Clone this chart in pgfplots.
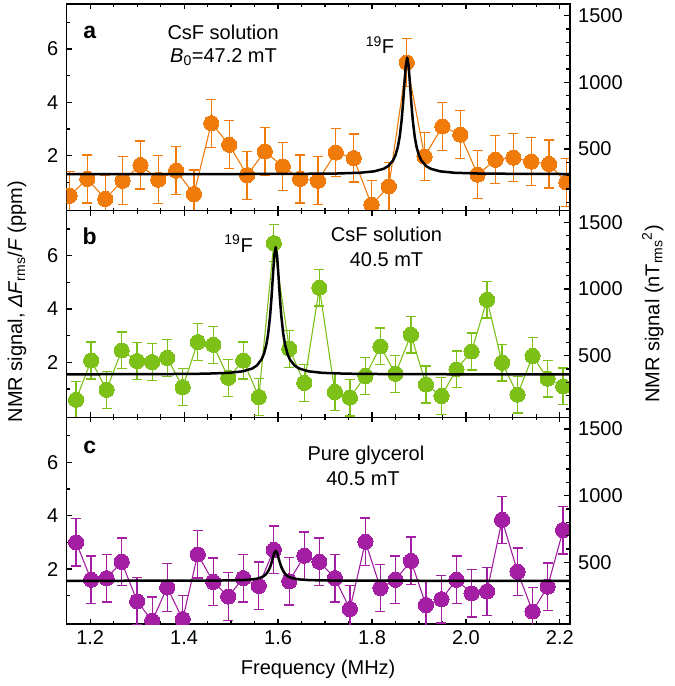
\documentclass[border=0pt]{standalone}
\usepackage{fontspec}
\setmainfont{Liberation Sans}
\usepackage{pgfplots}
\pgfplotsset{compat=1.18}

\definecolor{cor}{RGB}{240,122,10}
\definecolor{cgr}{RGB}{124,192,24}
\definecolor{cpu}{RGB}{164,30,164}

\newcommand{\tf}{\fontsize{20}{24}\selectfont}

\pgfplotsset{
  panel/.style={
    width=503pt, height=206.67pt, scale only axis,
    xmin=1.150, xmax=2.221, ymin=-0.06, ymax=7.689,
    xtick={1.2,1.4,1.6,1.8,2.0,2.2}, minor x tick num=3,
    ytick={2,4,6}, minor ytick={1,3,5,7},
    ytick pos=left, tick align=inside,
    major tick length=5pt, minor tick length=3pt,
    axis line style={line width=1.6pt},
    every tick/.append style={line width=1.2pt, black},
    tick label style={font=\tf},
    /pgf/number format/assume math mode=true,
    xticklabel style={/pgf/number format/.cd, fixed, fixed zerofill, precision=1, /tikz/.cd, yshift=-3pt},
    yticklabel style={xshift=-5pt},
    clip marker paths=true,
    clip mode=individual,
  },
  rpanel/.style={
    width=503pt, height=206.67pt, scale only axis,
    xmin=1.150, xmax=2.221, ymin=38, ymax=1587.8,
    hide x axis, axis y line*=right, ytick pos=right, tick align=inside,
    ytick={500,1000,1500}, minor ytick={100,200,300,400,600,700,800,900,1100,1200,1300,1400},
    major tick length=6pt, minor tick length=3.5pt,
    axis line style={line width=1.6pt},
    every tick/.append style={line width=1.2pt, black},
    tick label style={font=\tf},
    /pgf/number format/assume math mode=true,
    /pgf/number format/1000 sep={},
    scaled y ticks=false,
    yticklabel style={xshift=5pt},
    clip mode=individual,
  },
  dat/.style={line width=1.1pt, mark=*, mark size=7.6pt,
    mark options={solid, fill=#1, draw=#1, line width=0pt}, color=#1},
}

\begin{document}
\begin{tikzpicture}
% ---------------- panel a ----------------
\begin{axis}[panel, at={(0pt,413.33pt)}, xticklabels={}]
\addplot[dat=cor, error bars/.cd, y dir=both, y fixed=0.9,
  error bar style={line width=1.3pt, cor},
  error mark options={rotate=90, mark size=5pt, line width=1.3pt, cor}]
table {
1.156 0.50
1.194 1.13
1.232 0.38
1.269 1.06
1.307 1.65
1.345 1.10
1.383 1.44
1.421 0.56
1.458 3.22
1.496 2.41
1.534 1.27
1.572 2.16
1.610 1.60
1.647 1.13
1.685 1.06
1.723 2.12
1.761 1.91
1.799 0.16
1.836 0.85
1.874 5.50
1.912 1.97
1.950 3.10
1.988 2.79
2.025 1.29
2.063 1.85
2.101 1.93
2.139 1.78
2.177 1.69
2.214 1.00
};
\addplot[black, line width=2.5pt, line join=round] coordinates {
(1.150,1.311) (1.475,1.313) (1.625,1.318) (1.725,1.333) (1.775,1.362)
(1.805,1.415) (1.825,1.512) (1.835,1.617) (1.845,1.828) (1.850,2.018)
(1.855,2.324) (1.859,2.713) (1.863,3.307) (1.866,3.928) (1.869,4.679)
(1.872,5.378) (1.875,5.680) (1.878,5.378) (1.881,4.679) (1.884,3.928)
(1.887,3.307) (1.891,2.713) (1.895,2.324) (1.900,2.018) (1.905,1.828)
(1.915,1.617) (1.925,1.512) (1.945,1.415) (1.975,1.362) (2.025,1.333)
(2.125,1.318) (2.221,1.314)
};
\node[font=\fontsize{23}{26}\selectfont\bfseries, anchor=base] at (axis cs:1.199,6.41) {a};
\node[font=\tf, anchor=base] at (axis cs:1.483,6.37) {CsF solution};
\node[font=\tf, anchor=base] at (axis cs:1.484,5.50) {\textit{B}\textsubscript{0}=47.2 mT};
\node[font=\tf, anchor=base] at (axis cs:1.817,5.83) {\textsuperscript{19}F};
\end{axis}
\begin{axis}[rpanel, at={(0pt,413.33pt)}]
\end{axis}
% ---------------- panel b ----------------
\begin{axis}[panel, at={(0pt,206.67pt)}, xticklabels={}]
\addplot[dat=cgr, error bars/.cd, y dir=both, y fixed=0.69,
  error bar style={line width=1.3pt, cgr},
  error mark options={rotate=90, mark size=5pt, line width=1.3pt, cgr}]
table {
1.170 0.60
1.202 2.07
1.235 0.97
1.267 2.45
1.300 2.05
1.332 2.01
1.364 2.17
1.397 1.07
1.429 2.76
1.462 2.66
1.494 1.42
1.526 2.07
1.559 0.70
1.591 6.47
1.624 2.51
1.656 1.23
1.688 4.80
1.721 0.89
1.753 0.68
1.786 1.49
1.818 2.60
1.850 1.57
1.883 3.04
1.915 1.17
1.948 0.74
1.980 1.74
2.012 2.41
2.045 4.35
2.077 1.99
2.110 0.79
2.142 2.24
2.174 1.39
2.207 1.10
};
\addplot[black, line width=2.5pt, line join=round] coordinates {
(1.150,1.553) (1.345,1.559) (1.445,1.576) (1.495,1.607) (1.525,1.665)
(1.545,1.770) (1.555,1.885) (1.565,2.115) (1.570,2.323) (1.575,2.657)
(1.579,3.081) (1.583,3.730) (1.586,4.407) (1.589,5.228) (1.592,5.991)
(1.595,6.320) (1.598,5.991) (1.601,5.228) (1.604,4.407) (1.607,3.730)
(1.611,3.081) (1.615,2.657) (1.620,2.323) (1.625,2.115) (1.635,1.885)
(1.645,1.770) (1.665,1.665) (1.695,1.607) (1.745,1.576) (1.845,1.559)
(1.995,1.554) (2.221,1.551)
};
\node[font=\fontsize{23}{26}\selectfont\bfseries, anchor=base] at (axis cs:1.199,6.42) {b};
\node[font=\tf, anchor=base] at (axis cs:1.516,6.13) {\textsuperscript{19}F};
\node[font=\tf, anchor=base] at (axis cs:1.831,6.55) {CsF solution};
\node[font=\tf, anchor=base] at (axis cs:1.831,5.61) {40.5 mT};
\node[font=\tf, rotate=90, anchor=center] at (rel axis cs:-0.099,0.56) {NMR signal, \textit{ΔF}\textsubscript{rms}/\textit{F} (ppm)};
\end{axis}
\begin{axis}[rpanel, at={(0pt,206.67pt)}]
\node[font=\tf, rotate=90, anchor=center] at (rel axis cs:1.165,0.5) {NMR signal (nT\textsubscript{rms}\textsuperscript{2})};
\end{axis}
% ---------------- panel c ----------------
\begin{axis}[panel, at={(0pt,0pt)}]
\addplot[dat=cpu, error bars/.cd, y dir=both, y fixed=0.89,
  error bar style={line width=1.3pt, cpu},
  error mark options={rotate=90, mark size=5pt, line width=1.3pt, cpu}]
table {
1.170 3.00
1.202 1.60
1.235 1.66
1.267 2.27
1.300 0.79
1.332 0.06
1.364 1.31
1.397 0.12
1.429 2.55
1.462 1.52
1.494 0.97
1.526 1.66
1.559 1.37
1.591 2.72
1.624 1.54
1.656 2.50
1.688 2.27
1.721 1.66
1.753 0.50
1.786 3.02
1.818 1.29
1.850 1.60
1.883 2.31
1.915 0.65
1.948 0.87
1.980 1.60
2.012 1.09
2.045 1.16
2.077 3.84
2.110 1.90
2.142 0.41
2.174 1.34
2.207 3.46
};
\addplot[black, line width=2.5pt, line join=round] coordinates {
(1.150,1.561) (1.345,1.562) (1.445,1.566) (1.495,1.573) (1.525,1.587)
(1.545,1.612) (1.555,1.639) (1.565,1.693) (1.570,1.741) (1.575,1.820)
(1.579,1.920) (1.583,2.072) (1.586,2.231) (1.589,2.424) (1.592,2.603)
(1.595,2.680) (1.598,2.603) (1.601,2.424) (1.604,2.231) (1.607,2.072)
(1.611,1.920) (1.615,1.820) (1.620,1.741) (1.625,1.693) (1.635,1.639)
(1.645,1.612) (1.665,1.587) (1.695,1.573) (1.745,1.566) (1.845,1.562)
(1.995,1.561) (2.221,1.560)
};
\node[font=\fontsize{23}{26}\selectfont\bfseries, anchor=base] at (axis cs:1.199,6.35) {c};
\node[font=\tf, anchor=base] at (axis cs:1.787,6.06) {Pure glycerol};
\node[font=\tf, anchor=base] at (axis cs:1.781,5.15) {40.5 mT};
\node[font=\tf, anchor=center] at (rel axis cs:0.5,-0.22) {Frequency (MHz)};
\end{axis}
\begin{axis}[rpanel, at={(0pt,0pt)}]
\end{axis}
\pgfresetboundingbox
\useasboundingbox (-66.7pt,-62pt) rectangle (608.3pt,624pt);
\end{tikzpicture}
\end{document}
